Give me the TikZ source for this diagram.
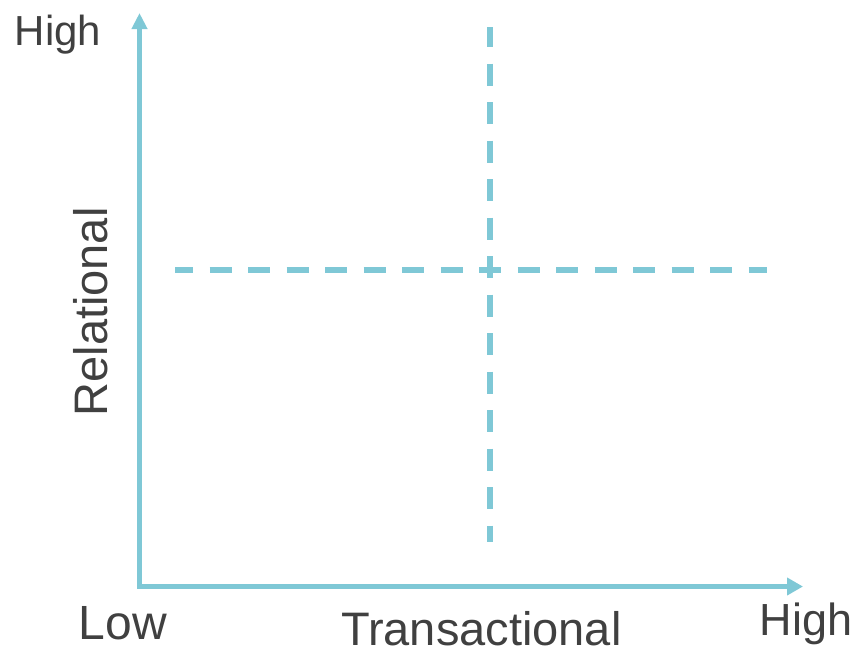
\documentclass[tikz,border=0pt]{standalone}
\usepackage{fontspec}
\setmainfont{Liberation Sans}
\usetikzlibrary{arrows.meta}
\definecolor{axiscol}{RGB}{127,200,214}
\definecolor{txtcol}{RGB}{64,64,64}
\begin{document}
\begin{tikzpicture}[x=1pt,y=-1pt,
  axis/.style={draw=axiscol,line width=5pt,line join=miter,
    {Triangle[length=16pt,width=15pt]}-{Triangle[length=16pt,width=17pt]}},
  divider/.style={draw=axiscol,line width=5.5pt,dash pattern=on 22pt off 16.5pt},
  lbl/.style={text=txtcol,inner sep=0pt,anchor=base west}]
\useasboundingbox (0,0) rectangle (860,649);
\coordinate (O) at (139.5,586.5);
\coordinate (ytip) at (139.5,13);
\coordinate (xtip) at (803,586.5);
\coordinate (vtop) at (490,27);
\coordinate (vbot) at (490,542);
\coordinate (hleft) at (175,270);
\coordinate (hright) at (767,270);
\draw[divider,dash phase=2pt] (vtop) -- (vbot);
\draw[divider,dash phase=4pt] (hleft) -- (hright);
\draw[axis] (ytip) -- (O) -- (xtip);
\node[lbl,font=\fontsize{42}{50}\selectfont] (yhigh) at (14.7,45) {High};
\node[lbl,font=\fontsize{48}{56}\selectfont] (xlow) at (78.5,639) {Low};
\node[lbl,font=\fontsize{47}{56}\selectfont] (xname) at (341,645) {Transactional};
\node[lbl,font=\fontsize{45}{54}\selectfont] (xhigh) at (759.4,635) {High};
\node[lbl,font=\fontsize{47}{54}\selectfont,rotate=90] (yname) at (107,416.6) {Relational};
\end{tikzpicture}
\end{document}
